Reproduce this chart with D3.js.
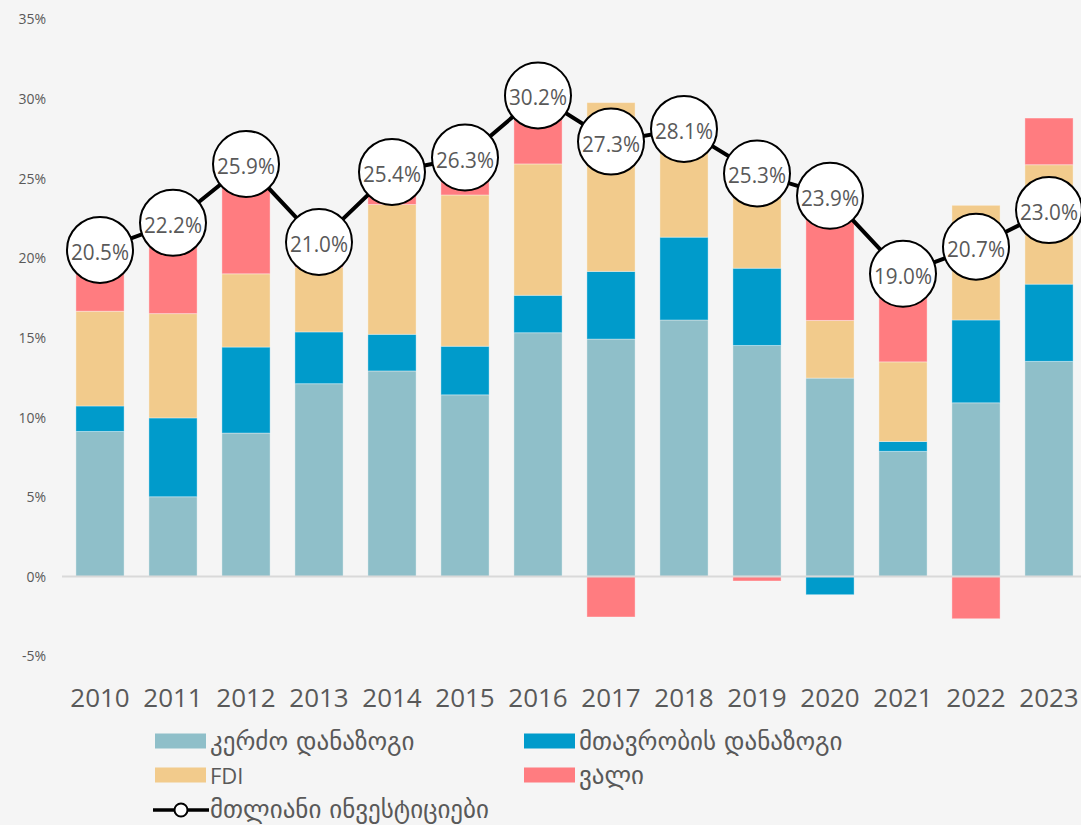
<!DOCTYPE html>
<html>
<head>
<meta charset="utf-8">
<script src="https://cdn.jsdelivr.net/npm/d3@7"></script>
<style>
  body { margin: 0; background: #f5f5f5; }
  svg { display: block; }
</style>
</head>
<body>
<div id="chart"></div>
<script>
// investment structure chart, % of GDP

var width = 1081,
    height = 825;

var years = ["2010", "2011", "2012", "2013", "2014", "2015", "2016", "2017", "2018", "2019", "2020", "2021", "2022", "2023"];

var privateSav = [9.1, 5.0, 9.0, 12.1, 12.9, 11.4, 15.3, 14.9, 16.1, 14.5, 12.45, 7.85, 10.9, 13.5];
var govSav     = [1.6, 4.95, 5.4, 3.25, 2.3, 3.05, 2.35, 4.25, 5.2, 4.85, -1.15, 0.62, 5.2, 4.85];
var fdi        = [5.95, 6.55, 4.6, 4.05, 8.15, 9.5, 8.25, 10.6, 6.8, 6.25, 3.62, 5.0, 7.2, 7.5];
var debt       = [3.85, 5.7, 6.9, 1.6, 2.05, 2.35, 4.3, -2.55, 0, -0.29, 8.98, 5.5, -2.66, 2.93];
var totalInv   = [20.5, 22.2, 25.9, 21.0, 25.4, 26.3, 30.2, 27.3, 28.1, 25.3, 23.9, 19.0, 20.7, 23.0];

var yTicks = [-5, 0, 5, 10, 15, 20, 25, 30, 35];

var keys = ["private", "gov", "fdi", "debt"];
var names = {
  private: "კერძო დანაზოგი",
  gov: "მთავრობის დანაზოგი",
  fdi: "FDI",
  debt: "ვალი"
};
var lineName = "მთლიანი ინვესტიციები";
var colors = { private: "#8fbfc9", gov: "#009bcb", fdi: "#f2cb8c", debt: "#ff7c80" };

var latin = "'Open Sans', 'DejaVu Sans', sans-serif";
var georgian = "'DejaVu Sans', 'Open Sans', sans-serif";

// rows for d3.stack
var rows = years.map(function(y, i) {
  return { year: y, private: privateSav[i], gov: govSav[i], fdi: fdi[i], debt: debt[i], total: totalInv[i] };
});

var svg = d3.select("#chart").append("svg")
    .attr("width", width)
    .attr("height", height)
    .style("background", "#f5f5f5");

var x = d3.scaleBand()
    .domain(years)
    .range([63.5, 1085.5])
    .paddingInner(0.34)
    .paddingOuter(0.17);

var y = d3.scaleLinear()
    .domain([-5, 35])
    .range([656, 19]);

// y axis labels only
var yAxis = d3.axisLeft(y)
    .tickValues(yTicks)
    .tickSize(0)
    .tickPadding(0)
    .tickFormat(function(d) { return d + "%"; });

svg.append("g")
    .attr("transform", "translate(46,0)")
    .call(yAxis)
    .call(function(g) {
      g.select(".domain").remove();
      g.selectAll("text")
        .attr("fill", "#595959")
        .style("font-family", latin)
        .style("font-size", "14px")
        .attr("dy", "0.35em");
    });

// stacked bars
var series = d3.stack()
    .keys(keys)
    .offset(d3.stackOffsetDiverging)(rows);

svg.append("g")
  .selectAll("g")
  .data(series)
  .enter().append("g")
    .attr("fill", function(d) { return colors[d.key]; })
  .selectAll("rect")
  .data(function(d) { return d; })
  .enter().append("rect")
    .filter(function(d) { return d[1] - d[0] !== 0; })
    .attr("x", function(d) { return x(d.data.year); })
    .attr("width", x.bandwidth())
    .attr("y", function(d) { return y(Math.max(d[0], d[1])); })
    .attr("height", function(d) { return Math.abs(y(d[0]) - y(d[1])); })
    .attr("stroke", "rgba(255,255,255,0.35)")
    .attr("stroke-width", 1);

// zero line
svg.append("line")
    .attr("x1", 62)
    .attr("x2", width)
    .attr("y1", y(0))
    .attr("y2", y(0))
    .attr("stroke", "#d9d9d9")
    .attr("stroke-width", 2);

// x labels
var xAxis = d3.axisBottom(x).tickSize(0).tickPadding(0);
svg.append("g")
    .attr("transform", "translate(0,707)")
    .call(xAxis)
    .call(function(g) {
      g.select(".domain").remove();
      g.selectAll("text")
        .attr("fill", "#595959")
        .attr("dy", 0)
        .style("font-family", latin)
        .style("font-size", "26px");
    });

// total investment line
var cx = function(d) { return x(d.year) + x.bandwidth() / 2; };
var line = d3.line()
    .x(cx)
    .y(function(d) { return y(d.total); });

svg.append("path")
    .datum(rows)
    .attr("fill", "none")
    .attr("stroke", "#000")
    .attr("stroke-width", 4)
    .attr("d", line);

var pts = svg.append("g")
  .selectAll("g")
  .data(rows)
  .enter().append("g")
    .attr("transform", function(d) { return "translate(" + cx(d) + "," + y(d.total) + ")"; });

pts.append("circle")
    .attr("r", 33)
    .attr("fill", "#fff")
    .attr("stroke", "#000")
    .attr("stroke-width", 2);

pts.append("text")
    .attr("text-anchor", "middle")
    .attr("y", 10)
    .attr("transform", "scale(0.94,1)")
    .attr("fill", "#595959")
    .style("font-family", latin)
    .style("font-size", "22px")
    .text(function(d) { return d.total.toFixed(1) + "%"; });

// legend
var legend = svg.append("g");
var legendItems = [
  { key: "private", x: 155, y: 741 },
  { key: "gov", x: 524, y: 741 },
  { key: "fdi", x: 155, y: 775 },
  { key: "debt", x: 524, y: 775 }
];

legendItems.forEach(function(it) {
  legend.append("rect")
      .attr("x", it.x)
      .attr("y", it.y - 7.5)
      .attr("width", 51)
      .attr("height", 15)
      .attr("fill", colors[it.key]);
  legend.append("text")
      .attr("x", it.x + 55)
      .attr("y", it.y + 9)
      .attr("fill", "#595959")
      .style("font-family", it.key === "fdi" ? latin : georgian)
      .style("font-size", it.key === "fdi" ? "22px" : "25px")
      .text(names[it.key]);
});

legend.append("line")
    .attr("x1", 153).attr("x2", 209)
    .attr("y1", 810).attr("y2", 810)
    .attr("stroke", "#000")
    .attr("stroke-width", 3.5);
legend.append("circle")
    .attr("cx", 181).attr("cy", 810)
    .attr("r", 6.5)
    .attr("fill", "#fff")
    .attr("stroke", "#000")
    .attr("stroke-width", 2);
legend.append("text")
    .attr("x", 210)
    .attr("y", 818)
    .attr("fill", "#595959")
    .style("font-family", georgian)
    .style("font-size", "25px")
    .text(lineName);
</script>
</body>
</html>
